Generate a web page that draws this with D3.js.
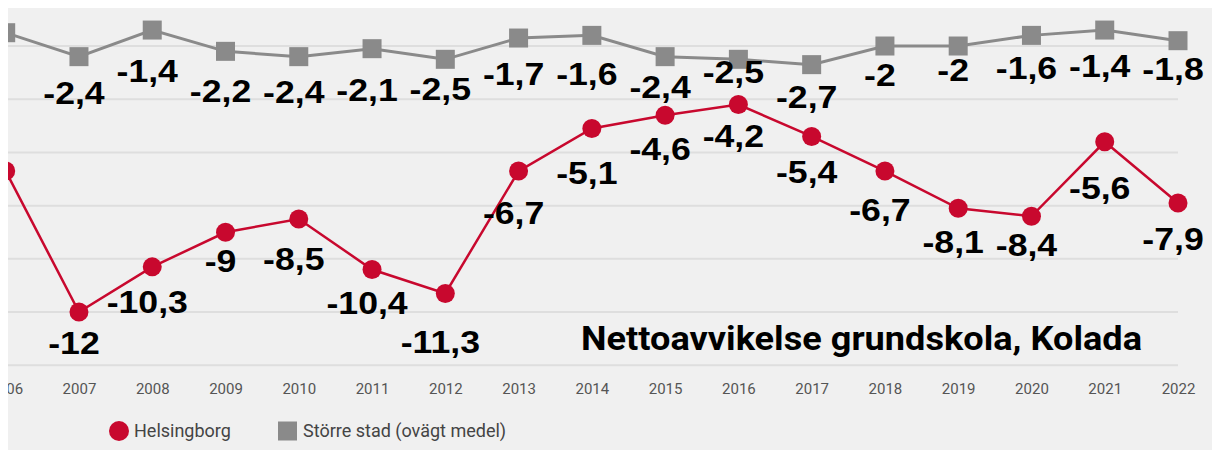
<!DOCTYPE html>
<html>
<head>
<meta charset="utf-8">
<script src="https://cdn.jsdelivr.net/npm/d3@7"></script>
<style>
  body { margin: 0; background: #fff; }
  svg { display: block; }
</style>
</head>
<body>
<svg id="chart"></svg>
<script>
// data (2006 is cut off at the left edge, no labels)
const years = [2006, 2007, 2008, 2009, 2010, 2011, 2012, 2013, 2014, 2015, 2016, 2017, 2018, 2019, 2020, 2021, 2022];
const helsingborg = [-6.7, -12, -10.3, -9, -8.5, -10.4, -11.3, -6.7, -5.1, -4.6, -4.2, -5.4, -6.7, -8.1, -8.4, -5.6, -7.9];
const storreStad = [-1.5, -2.4, -1.4, -2.2, -2.4, -2.1, -2.5, -1.7, -1.6, -2.4, -2.5, -2.7, -2, -2, -1.6, -1.4, -1.8];
const gridValues = [-14, -12, -10, -8, -6, -4, -2, 0];
const seriesNames = ['Helsingborg', 'Större stad (ovägt medel)'];
const title = 'Nettoavvikelse grundskola, Kolada';

// label nudges (px below marker), the original avoids collisions by hand
const redLabelDy = [null, 31, 35, 29, 40, 33, 49, 42, 45, 34, 31, 36, 39, 34, 29, 46, 36];
const greyLabelDy = [null, 36, 41, 40, 35, 41, 30, 36, 39, 30, 13, 32, 29, 24, 33, 36, 28];

const W = 1212, H = 450;
const RED = '#c8082e', GREY = '#8a8a8a';

const svg = d3.select('#chart').attr('width', W).attr('height', H);

svg.append('defs').append('clipPath').attr('id', 'clip')
  .append('rect').attr('x', 8).attr('y', 8).attr('width', W - 8).attr('height', H - 8);

svg.append('rect').attr('x', 8).attr('y', 8).attr('width', W - 8).attr('height', H - 8)
  .attr('fill', '#f0f0f0');

const g = svg.append('g').attr('clip-path', 'url(#clip)');

const x = d3.scaleLinear().domain([2006, 2022]).range([5.7, 1178]);
const y = d3.scaleLinear().domain([-14, 0]).range([365.3, -7.2]);

// grid
g.append('g').selectAll('line').data(gridValues).join('line')
  .attr('x1', 0).attr('x2', x(2022))
  .attr('y1', d => y(d)).attr('y2', d => y(d))
  .attr('stroke', '#dedede').attr('stroke-width', 2);

// x axis
const axis = g.append('g').attr('transform', 'translate(0,380)')
  .call(d3.axisBottom(x).tickValues(years).tickFormat(d3.format('d')).tickSize(0).tickPadding(0));
axis.select('.domain').remove();
axis.selectAll('text')
  .attr('font-family', 'Roboto, sans-serif').attr('font-size', 15).attr('fill', '#555')
  .attr('dy', '0.95em');

const fmt = v => String(v).replace('.', ',');
const pts = arr => arr.map((v, i) => ({ year: years[i], value: v, i }));

const line = d3.line().x(d => x(d.year)).y(d => y(d.value));

// grey series
g.append('path').datum(pts(storreStad)).attr('d', line)
  .attr('fill', 'none').attr('stroke', GREY).attr('stroke-width', 3);
g.append('g').selectAll('rect').data(pts(storreStad)).join('rect')
  .attr('x', d => x(d.year) - 9.5).attr('y', d => y(d.value) - 9.5)
  .attr('width', 19).attr('height', 19).attr('fill', GREY);

// red series
g.append('path').datum(pts(helsingborg)).attr('d', line)
  .attr('fill', 'none').attr('stroke', RED).attr('stroke-width', 2.5);
g.append('g').selectAll('circle').data(pts(helsingborg)).join('circle')
  .attr('cx', d => x(d.year)).attr('cy', d => y(d.value)).attr('r', 9.5).attr('fill', RED);

// value labels
function labels(arr, dys) {
  g.append('g').selectAll('text').data(pts(arr).filter(d => dys[d.i] != null)).join('text')
    .attr('transform', d => `translate(${x(d.year) - 5},${y(d.value) + dys[d.i] + 11}) scale(1.15,1)`)
    .attr('text-anchor', 'middle')
    .attr('font-family', '"Liberation Sans", Arial, sans-serif')
    .attr('font-weight', 700).attr('font-size', 31).attr('fill', '#000')
    .text(d => fmt(d.value));
}
labels(storreStad, greyLabelDy);
labels(helsingborg, redLabelDy);

// title
g.append('text').attr('x', 581).attr('y', 350)
  .attr('font-family', 'Roboto, sans-serif').attr('font-weight', 700).attr('font-size', 34)
  .attr('fill', '#000').attr('textLength', 561).attr('lengthAdjust', 'spacingAndGlyphs')
  .text(title);

// legend
const leg = g.append('g').attr('font-family', 'Roboto, sans-serif').attr('font-size', 18).attr('fill', '#444');
leg.append('circle').attr('cx', 119).attr('cy', 431).attr('r', 10).attr('fill', RED);
leg.append('text').attr('x', 134).attr('y', 437).text(seriesNames[0]);
leg.append('rect').attr('x', 278).attr('y', 421.5).attr('width', 19).attr('height', 19).attr('fill', GREY);
leg.append('text').attr('x', 303).attr('y', 437).text(seriesNames[1]);
</script>
</body>
</html>
